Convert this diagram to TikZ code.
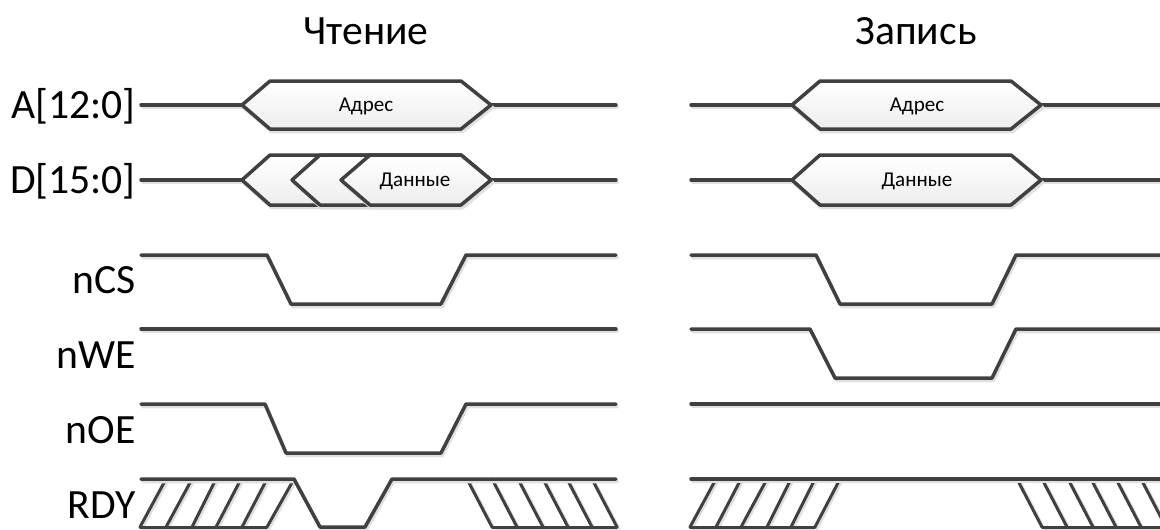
\documentclass[tikz,border=0pt]{standalone}
\usepackage{fontspec}
\setmainfont{Carlito}
\definecolor{wirecol}{RGB}{64,64,64}
\tikzset{
	wire/.style={draw=wirecol,line width=0.07cm,preaction={draw=black!12,line width=0.07cm,transform canvas={shift={(0.03cm,-0.05cm)}}}},
	hatch/.style={draw=wirecol,line width=0.06cm,preaction={draw=black!12,line width=0.06cm,transform canvas={shift={(0.04cm,-0.03cm)}}}},
	bus/.style={wire,top color=white,bottom color=black!7},
	siglabel/.style={anchor=base east,font=\fontsize{23.7}{28}\selectfont,inner sep=0pt},
	title/.style={anchor=base,font=\fontsize{23.7}{28}\selectfont,inner sep=0pt},
	buslabel/.style={anchor=base,font=\fontsize{12}{14}\selectfont,inner sep=0pt}
}
\begin{document}
\begin{tikzpicture}[x=0.02cm,y=-0.02cm,line join=round,line cap=round]
		\clip (0,0) rectangle (1160,529);
		\node[title] (read) at (366,44) {Чтение};
		\node[title] (write) at (916,44) {Запись};
		\node[siglabel] (addr) at (136,118) {A[12:0]};
		\node[siglabel] (data) at (136,193) {D[15:0]};
		\node[siglabel] (ncs) at (136,293.5) {nCS};
		\node[siglabel] (nwe) at (136,368.5) {nWE};
		\node[siglabel] (noe) at (136,443.5) {nOE};
		\node[siglabel] (rdy) at (136,518.5) {RDY};
		% шины
		\foreach \s in {0,550} {
			\draw[wire] (141+\s,105)--(242+\s,105) (491+\s,105)--(616+\s,105);
			\draw[wire] (141+\s,180)--(242+\s,180) (491+\s,180)--(616+\s,180);
			\draw[bus] (242+\s,105)--(270+\s,81)--(461+\s,81)--(491+\s,105)--(461+\s,129)--(270+\s,129)--cycle;
			\draw[bus] (242+\s,180)--(270+\s,155)--(461+\s,155)--(491+\s,180)--(461+\s,205)--(270+\s,205)--cycle;
		}
		\draw[bus] (292,180)--(320,155)--(461,155)--(491,180)--(461,205)--(320,205)--cycle;
		\draw[bus] (341,180)--(370,155)--(461,155)--(491,180)--(461,205)--(370,205)--cycle;
		\node[buslabel] (addrr) at (366,111) {Адрес};
		\node[buslabel] (datar) at (415,186) {Данные};
		\node[buslabel] (addrw) at (917,111) {Адрес};
		\node[buslabel] (dataw) at (917,186) {Данные};
		% чтение
		\draw[wire] (141,255)--(267,255)--(291,304)--(441,304)--(466,255)--(616,255);
		\draw[wire] (141,329)--(616,329);
		\draw[wire] (141,404)--(265,404)--(286,453)--(441,453)--(466,404)--(616,404);
		\foreach \a/\b in {140/166,166/192,192/216,216/241,242/267,267/294}
		\draw[hatch] (\a,527)--(\b,479);
		\foreach \a in {467,492,518,543,567,592}
		\draw[hatch] (\a,479)--(\a+25,527);
		\draw[hatch] (140,527)--(267,527) (492,527)--(617,527);
		\draw[wire] (141,479)--(294,479)--(320,527)--(365,527)--(392,479)--(616,479);
		% запись
		\draw[wire] (691,255)--(816,255)--(840,304)--(992,304)--(1016,255)--(1165,255);
		\draw[wire] (691,329)--(810,329)--(835,378)--(992,378)--(1016,329)--(1165,329);
		\draw[wire] (691,404)--(1165,404);
		\foreach \a/\b in {690/716,716/741,741/767,767/791,791/815,815/840}
		\draw[hatch] (\a,527)--(\b,479);
		\foreach \a in {1017,1042,1068,1091,1116,1141}
		\draw[hatch] (\a,479)--(\a+25,527);
		\draw[hatch] (690,527)--(815,527) (1042,527)--(1165,527);
		\draw[wire] (691,479)--(1165,479);
\end{tikzpicture}
\end{document}
